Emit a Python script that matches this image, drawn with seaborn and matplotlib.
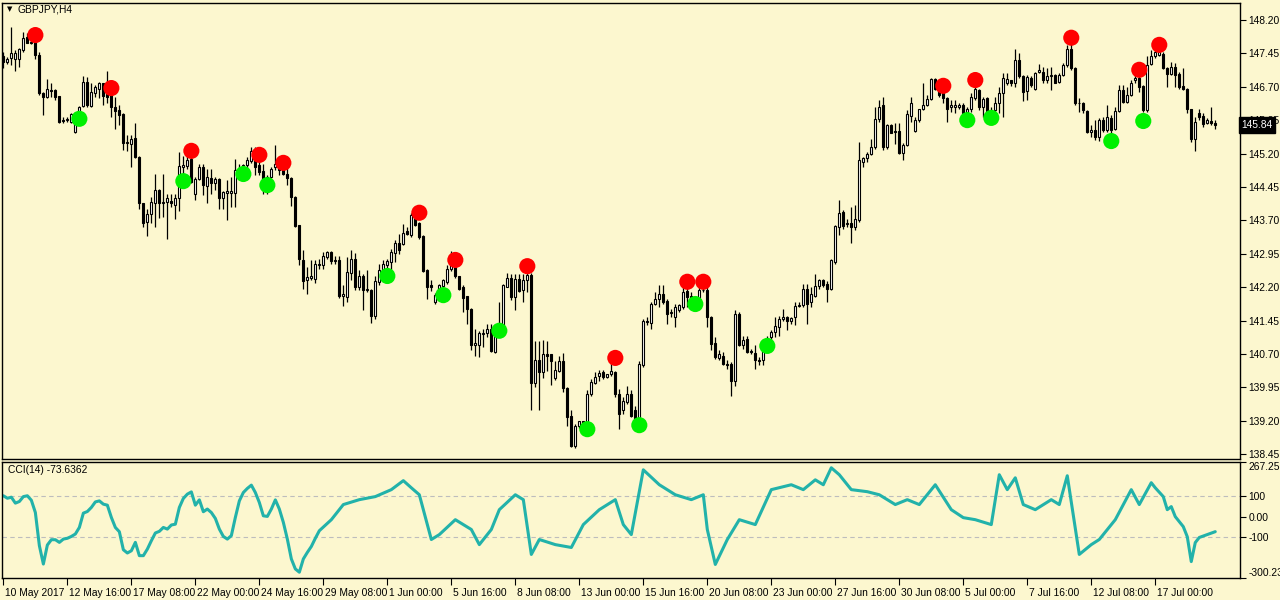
import matplotlib
matplotlib.use("Agg")
import matplotlib.pyplot as plt
import matplotlib.transforms as mtransforms
import seaborn as sns
import numpy as np

# GBPJPY H4 candles (one entry per bar, 10 May 2017 00:00 onward)
opens = [147.38,147.26,147.34,147.32,147.32,147.53,147.81,147.71,147.71,147.41,146.55,146.46,146.63,146.63,146.49,145.95,145.95,145.91,145.69,146.06,
146.27,146.81,146.27,146.55,146.66,146.78,146.66,146.55,146.25,146.18,146.09,145.44,145.41,145.54,145.13,144.08,143.66,143.85,144.09,144.38,
144.09,144.11,144.13,144.04,144.19,144.90,144.92,145.07,144.30,144.62,144.90,144.47,144.66,144.54,144.62,144.19,144.32,144.32,144.32,144.84,
144.81,144.94,145.04,145.26,144.94,144.81,144.54,144.68,144.89,144.97,144.84,144.73,144.65,144.23,143.59,142.82,142.37,142.41,142.39,142.69,
142.69,142.88,142.99,142.79,142.80,142.01,141.98,142.52,142.84,142.20,142.44,142.14,142.14,141.56,142.31,142.54,142.69,142.76,142.97,143.19,
143.16,143.46,143.36,143.83,143.64,143.34,142.59,142.24,141.86,142.01,142.22,142.31,142.61,142.69,142.44,142.21,141.99,141.71,140.89,140.89,
141.15,141.16,141.26,140.74,141.24,141.30,142.21,142.41,141.97,142.39,142.14,142.35,142.48,140.04,140.56,140.29,140.69,140.69,140.16,140.32,
140.55,139.94,139.31,138.64,139.07,139.19,139.13,139.79,140.04,140.21,140.29,140.18,140.24,140.29,139.80,139.44,139.61,139.80,139.43,139.09,
140.44,141.45,141.39,141.83,141.94,142.05,141.89,141.62,141.53,141.69,141.75,142.11,141.99,141.92,141.96,142.13,142.14,141.53,140.94,140.61,
140.66,140.48,140.48,140.10,141.59,140.89,141.04,140.76,140.72,140.57,140.57,140.91,141.08,141.19,141.30,141.49,141.54,141.44,141.54,141.77,
141.79,142.16,141.86,142.01,142.22,142.35,142.28,142.16,142.76,143.55,143.89,143.61,143.63,143.54,143.70,145.01,145.09,145.20,145.34,145.97,
146.29,145.35,145.84,145.70,145.71,145.22,145.39,146.04,145.71,145.95,146.19,146.29,146.42,146.87,146.64,146.55,146.44,146.24,146.24,146.25,
146.29,146.14,146.19,146.44,146.63,146.25,146.44,146.16,146.18,146.33,146.55,146.79,146.84,146.78,147.29,146.93,146.61,146.89,146.66,147.02,
147.04,146.84,146.94,146.96,146.81,146.96,147.19,147.54,147.11,146.33,146.33,146.16,145.69,145.73,145.58,145.95,145.73,145.99,145.74,146.16,
146.63,146.36,146.51,146.84,146.89,146.72,146.18,147.21,147.38,147.41,147.44,147.11,146.99,147.15,146.99,146.72,146.66,146.19,145.52,146.10,
146.04,145.88,145.93,145.88]
highs = [147.49,147.36,148.05,147.53,147.56,147.94,147.90,147.75,147.79,147.49,146.59,146.87,146.78,146.66,146.50,146.03,146.01,146.10,146.14,146.27,
146.93,146.91,146.78,146.74,146.81,146.79,147.06,146.63,146.48,146.29,146.10,145.61,145.61,145.88,145.14,144.09,143.96,144.23,144.74,144.41,
144.75,144.30,144.30,144.30,145.24,145.14,145.37,145.35,144.68,144.96,144.96,144.86,144.86,144.68,144.64,144.36,144.60,144.68,145.07,144.97,
144.97,145.13,145.34,145.34,145.09,144.97,144.71,144.90,145.39,145.09,144.90,144.90,144.68,144.24,143.60,143.03,142.65,142.80,142.80,142.84,
142.99,143.01,143.01,142.89,142.89,142.24,142.88,143.03,142.97,142.58,142.50,142.58,142.16,142.46,142.73,142.80,142.84,143.06,143.25,143.40,
143.62,143.55,143.87,143.89,143.66,143.36,142.61,142.35,142.06,142.27,142.39,142.69,143.02,142.72,142.46,142.24,142.01,141.74,141.26,141.22,
141.26,141.37,141.37,141.26,141.86,142.26,142.51,142.50,142.50,142.50,142.50,142.69,142.51,141.00,141.00,141.01,141.00,140.70,140.55,140.66,
140.71,139.95,139.44,139.13,139.20,139.20,139.88,140.14,140.29,140.33,140.33,140.25,140.74,140.31,139.91,139.73,139.99,139.88,139.54,140.55,
141.49,141.53,141.86,142.09,142.24,142.24,141.94,141.71,141.83,141.83,142.24,142.24,142.09,142.01,142.24,142.24,142.24,141.56,141.08,140.78,
140.74,140.57,140.51,141.68,141.64,141.11,141.11,140.81,140.89,140.64,140.96,141.11,141.23,141.53,141.56,141.71,141.56,141.53,141.86,141.86,
142.28,142.28,142.20,142.50,142.39,142.39,142.34,142.84,143.59,144.15,143.93,143.74,144.00,144.04,145.46,145.13,145.24,145.52,146.25,146.40,
146.48,145.86,145.86,145.88,145.88,145.44,146.18,146.48,146.03,146.21,146.78,146.51,146.89,146.89,146.70,146.63,146.46,146.40,146.40,146.34,
146.33,146.25,146.55,146.78,146.66,146.48,146.46,146.25,146.48,146.70,147.00,147.00,146.86,147.54,147.45,146.96,146.96,146.93,147.04,147.22,
147.15,147.11,147.15,146.98,147.00,147.24,147.64,147.68,147.14,146.44,146.36,146.18,145.84,145.95,145.99,146.03,146.29,146.06,146.25,146.74,
146.74,146.70,146.84,146.96,146.93,146.73,147.38,147.53,147.56,147.54,147.47,147.15,147.26,147.24,147.04,147.11,146.68,146.21,146.03,146.21,
146.10,145.99,146.25,145.95]
lows = [147.11,147.21,147.19,147.06,147.15,147.49,147.68,147.66,147.32,146.51,146.06,146.44,146.48,146.40,145.88,145.88,145.91,145.88,145.67,146.03,
146.24,146.25,146.24,146.46,146.44,146.29,146.33,146.03,145.76,145.84,145.28,145.26,144.90,145.09,143.96,143.55,143.34,143.64,143.55,143.76,
143.78,143.29,144.00,143.74,143.91,144.60,144.86,144.53,144.15,144.60,144.26,144.08,144.30,144.38,143.96,143.96,143.70,144.00,144.00,144.64,
144.60,144.75,144.98,144.71,144.71,144.30,144.30,144.64,144.84,144.71,144.71,144.49,144.02,143.55,142.69,142.16,142.05,142.35,142.29,142.61,
142.61,142.84,142.73,142.71,141.96,141.77,141.86,142.35,142.14,142.14,141.68,142.09,141.39,141.49,142.24,142.49,142.61,142.43,142.76,142.95,
143.14,143.36,143.33,143.57,143.29,142.54,141.94,142.12,141.82,141.97,142.12,142.27,142.57,142.41,142.14,141.64,141.37,140.79,140.66,140.63,
140.85,141.07,140.74,140.71,141.21,141.28,142.20,141.90,141.68,142.09,141.86,142.09,139.44,139.95,139.44,140.17,140.32,140.01,140.11,140.29,
139.84,139.09,138.60,138.59,139.04,139.05,139.09,139.76,140.03,140.10,140.14,140.16,140.21,139.73,139.01,139.35,139.57,139.28,139.04,139.05,
140.40,141.34,141.26,141.79,141.75,141.83,141.38,141.53,141.30,141.64,141.71,141.75,141.71,141.86,141.94,142.09,141.30,140.78,140.59,140.57,
140.44,140.36,139.76,139.99,140.87,140.81,140.72,140.70,140.36,140.44,140.44,140.89,141.00,141.08,141.11,141.45,141.23,141.38,141.34,141.75,
141.75,141.38,141.75,141.98,142.16,142.20,141.86,142.14,142.71,143.36,143.51,143.55,143.18,143.48,143.66,144.90,145.01,145.16,145.31,145.91,
145.28,145.31,145.65,145.41,145.20,145.05,145.37,145.91,145.69,145.91,146.18,146.27,146.40,146.63,146.48,146.33,145.91,146.14,146.10,146.21,
145.95,145.91,146.14,146.40,146.18,146.03,146.10,145.99,146.14,146.10,146.01,146.74,146.71,146.70,146.89,146.39,146.40,146.70,146.63,147.00,
146.78,146.78,146.63,146.78,146.79,146.93,147.15,147.08,146.29,146.14,146.10,145.67,145.56,145.50,145.49,145.69,145.69,145.65,145.73,146.14,
146.34,146.33,146.49,146.78,146.59,146.14,146.14,147.19,147.34,147.39,147.09,146.70,146.96,146.70,146.66,146.63,146.10,145.46,145.26,145.95,
145.80,145.86,145.84,145.76]
closes = [147.26,147.32,147.45,147.45,147.54,147.79,147.69,147.69,147.41,146.55,146.46,146.64,146.61,146.46,145.91,145.94,145.97,146.08,146.06,146.24,
146.81,146.29,146.59,146.70,146.78,146.49,146.48,146.24,146.16,146.06,145.44,145.46,145.52,145.13,144.08,143.64,143.84,144.11,144.38,144.09,
144.11,144.20,144.08,144.21,144.92,144.94,145.05,144.56,144.62,144.90,144.49,144.68,144.54,144.62,144.19,144.34,144.35,144.35,144.84,144.79,
144.94,145.05,145.26,144.90,144.79,144.56,144.68,144.86,144.97,144.84,144.73,144.66,144.23,143.57,142.84,142.34,142.43,142.44,142.73,142.71,
142.89,142.99,142.79,142.80,142.01,142.05,142.54,142.84,142.20,142.44,142.14,142.16,141.56,142.34,142.58,142.71,142.79,142.99,143.18,143.03,
143.41,143.39,143.83,143.59,143.32,142.56,142.21,142.20,142.03,142.25,142.35,142.61,142.69,142.46,142.16,141.96,141.71,140.91,140.94,141.16,
141.18,141.26,140.76,141.24,141.31,142.24,142.41,141.97,142.39,142.12,142.35,142.48,140.04,140.56,140.29,140.69,140.65,140.53,140.34,140.55,
139.94,139.29,138.64,139.09,139.19,139.11,139.79,140.06,140.19,140.27,140.18,140.24,140.31,139.80,139.35,139.65,139.80,139.31,139.09,140.48,
141.45,141.41,141.83,141.94,142.05,141.86,141.60,141.64,141.75,141.79,142.09,141.98,141.92,141.96,142.13,142.14,141.53,140.93,140.63,140.69,
140.48,140.46,140.10,141.59,140.91,141.02,140.74,140.74,140.57,140.55,140.91,141.04,141.19,141.32,141.49,141.54,141.44,141.51,141.77,141.80,
142.16,141.83,142.05,142.22,142.35,142.24,142.16,142.80,143.57,143.87,143.57,143.63,143.54,143.72,145.05,145.09,145.20,145.35,145.97,146.25,
145.35,145.84,145.67,145.68,145.22,145.39,146.09,146.33,145.95,146.19,146.29,146.42,146.87,146.66,146.51,146.44,146.21,146.29,146.28,146.29,
146.11,146.19,146.46,146.66,146.25,146.42,146.14,146.18,146.33,146.55,146.89,146.88,146.78,147.29,146.93,146.59,146.91,146.74,147.00,147.08,
146.84,146.94,146.96,146.79,146.96,147.19,147.54,147.11,146.33,146.34,146.18,145.69,145.73,145.56,145.95,145.73,146.01,145.73,146.16,146.63,
146.36,146.51,146.79,146.89,146.70,146.18,147.19,147.38,147.49,147.49,147.11,146.99,147.14,146.96,146.70,146.66,146.19,145.52,145.91,146.03,
145.86,145.95,145.88,145.84]

# fractal-style markers (bar index, price)
red_idx = [8, 27, 47, 64, 70, 104, 113, 131, 153, 171, 175, 235, 243, 267, 284, 289]
red_price = [147.86, 146.67, 145.26, 145.17, 144.99, 143.87, 142.81, 142.67, 140.61, 142.32, 142.32,
             146.72, 146.85, 147.80, 147.08, 147.64]
green_idx = [19, 45, 60, 66, 96, 110, 124, 146, 159, 173, 191, 241, 247, 277, 285]
green_price = [145.98, 144.58, 144.74, 144.49, 142.45, 142.02, 141.22, 139.01, 139.10, 141.82,
               140.88, 145.95, 146.00, 145.48, 145.93]

# CCI(14) (bar index, value)
cci_idx = list(range(80)) + [82, 85, 89, 93, 97, 100, 102, 104, 107, 109, 113, 117, 119, 122, 124, 128, 130,
    132, 134, 138, 142, 145, 149, 153, 155, 157, 160, 164, 168, 172, 175, 176, 178, 181, 184, 188, 192, 197,
    200, 203, 205, 207, 209, 212, 216, 219, 223, 226, 229, 233, 237, 240, 243, 247, 249, 251, 253, 255, 258,
    262, 264, 266, 269, 272, 274, 278, 282, 284, 287, 288, 290, 291, 292, 293, 295, 296, 297, 298, 299, 301, 303]
cci_val = [102, 90, 95, 66, 74, 98, 102, 80, 20, -142, -232, -139, -113, -113, -126, -110, -106, -97, -85, -53,
    17, 25, 45, 72, 77, 61, 56, -4, -53, -74, -162, -178, -167, -126, -191, -191, -159, -118, -80, -72,
    -53, -61, -41, -37, 45, 89, 110, 121, 56, 82, 24, 37, 20, -9, -61, -97, -110, -93, -4, 77,
    118, 138, 154, 118, 69, 4, 1, 37, 82, 37, -28, -110, -207, -256, -272, -207, -175, -146, -106, -69,
    -15, 59, 83, 98, 132, 176, 141, 107, -112, -88, -15, -63, -137, -63, 34, 107, 83,
    -185, -112, -137, -151, -39, 34, 83, -39, -88, 229, 156, 107, 83, 107, -63, -234, -112, -15, -39, 132, 156,
    132, 180, 156, 239, 205, 132, 122, 107, 59, 83, 59, 156, 34, -5, -15, -39, 205, 132, 190, 59, 34,
    83, 59, 200, -185, -137, -112, -15, 132, 59, 166, 141, 98, 34, 49, 0, -49, -98, -220, -127, -102, -88, -73.64]

tick_idx = [0, 16, 32, 48, 64, 80, 96, 112, 128, 144, 160, 176, 192, 208, 224, 240, 256, 272, 288]
tick_labels = ["10 May 2017", "12 May 16:00", "17 May 08:00", "22 May 00:00", "24 May 16:00",
               "29 May 08:00", "1 Jun 00:00", "5 Jun 16:00", "8 Jun 08:00", "13 Jun 00:00",
               "15 Jun 16:00", "20 Jun 08:00", "23 Jun 00:00", "27 Jun 16:00", "30 Jun 08:00",
               "5 Jul 00:00", "7 Jul 16:00", "12 Jul 08:00", "17 Jul 00:00"]
price_ticks = [138.45, 139.20, 139.95, 140.70, 141.45, 142.20, 142.95, 143.70, 144.45, 145.20, 145.95,
               146.70, 147.45, 148.20]
last_price = 145.84
cci_last = -73.6362
cci_top, cci_bottom = 267.2585, -300.230

BG = "#FCF7CF"
sns.set_theme(style="white", rc={"axes.facecolor": BG, "figure.facecolor": BG})
plt.rcParams["font.family"] = ["Liberation Sans", "DejaVu Sans"]
FS = 7.4

fig = plt.figure(figsize=(12.8, 6), dpi=100)
ax = fig.add_axes([0.0016, 0.235, 0.9672, 0.76])
ax2 = fig.add_axes([0.0016, 0.0367, 0.9672, 0.1933])

idx = np.arange(len(closes))
o = np.array(opens); c = np.array(closes)
ax.vlines(idx, lows, highs, color="black", linewidth=0.9, zorder=2)
up = c >= o
body = np.maximum(np.abs(c - o), 0.012)
ax.bar(idx[up], body[up], bottom=o[up], width=0.55, color="white", edgecolor="black", linewidth=0.8, zorder=3)
ax.bar(idx[~up], body[~up], bottom=c[~up], width=0.55, color="black", edgecolor="black", linewidth=0.8, zorder=3)

sns.scatterplot(x=red_idx, y=red_price, ax=ax, color="#FF0000", s=135, edgecolor="none", zorder=5, legend=False)
sns.scatterplot(x=green_idx, y=green_price, ax=ax, color="#00F000", s=135, edgecolor="none", zorder=5, legend=False)

xlim = (-0.33, 309.2)
ax.set_xlim(*xlim)
ax.set_ylim(138.34, 148.58)
ax.set_xticks([])
ax.yaxis.tick_right()
ax.set_yticks(price_ticks)
ax.set_yticklabels([f"{p:.2f}" for p in price_ticks])
ax.tick_params(axis="y", direction="out", length=4, width=0.8, pad=2, labelsize=FS, colors="black", right=True)

trans = mtransforms.blended_transform_factory(ax.transAxes, ax.transData)
ax.text(1.0012, last_price, f"{last_price:.2f}", transform=trans, color="white", fontsize=FS,
        va="center", ha="left", zorder=10, clip_on=False,
        bbox=dict(boxstyle="square,pad=0.25", facecolor="black", edgecolor="black"))

# CCI panel
sns.lineplot(x=cci_idx, y=cci_val, ax=ax2, color="#22B2AA", linewidth=2.2)
for lvl in (100, -100):
    ax2.axhline(lvl, color="#BDBDBD", linewidth=0.8, linestyle=(0, (4, 3)), zorder=0)
ax2.set_xlim(*xlim)
ax2.set_ylim(cci_bottom, cci_top)
ax2.yaxis.tick_right()
ax2.set_yticks([cci_top, 100, 0, -100, cci_bottom])
ax2.set_yticklabels(["267.2585", "100", "0.00", "-100", "-300.230"])
ax2.tick_params(axis="y", direction="out", length=4, width=0.8, pad=2, labelsize=FS, colors="black", right=True)
lbl = ax2.get_yticklabels()
lbl[0].set_va("top"); lbl[-1].set_va("bottom")
ax2.set_xticks(tick_idx)
ax2.set_xticklabels(tick_labels, ha="left")
ax2.tick_params(axis="x", direction="out", length=5, width=0.8, pad=2, labelsize=FS, colors="black", bottom=True)
for lab in ax2.get_xticklabels():
    lab.set_transform(lab.get_transform() + mtransforms.ScaledTranslation(2 / 100, 0, fig.dpi_scale_trans))
ax2.set_xlabel(""); ax2.set_ylabel("")

for a in (ax, ax2):
    for s in a.spines.values():
        s.set_color("black"); s.set_linewidth(1.0)

fig.text(0.0055, 0.984, "\u25BC", fontsize=5, color="black", va="center", ha="left",
         family=["DejaVu Sans"])
fig.text(0.0135, 0.984, "GBPJPY,H4", fontsize=FS, color="black", va="center", ha="left")
fig.text(0.0063, 0.217, f"CCI(14) {cci_last:.4f}", fontsize=FS, color="black", va="center", ha="left")

fig.savefig("out.png", dpi=100, facecolor=BG)
